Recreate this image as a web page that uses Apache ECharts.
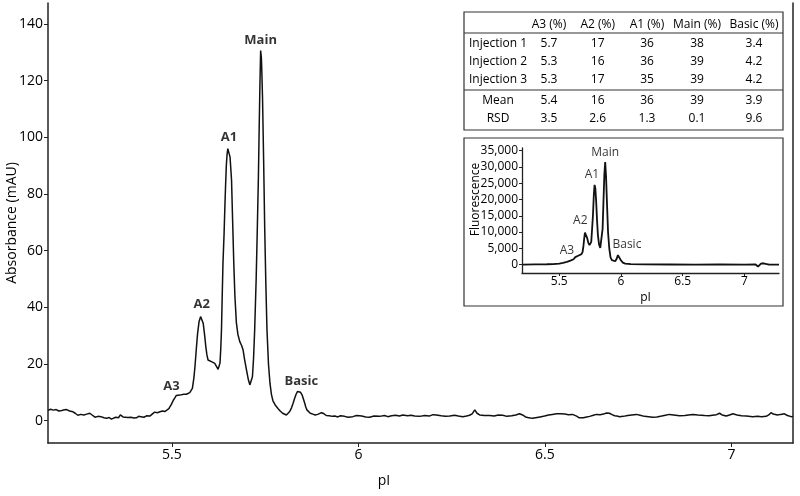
<!DOCTYPE html>
<html><head><meta charset="utf-8">
<script src="https://cdn.jsdelivr.net/npm/echarts@6/dist/echarts.min.js"></script>
<style>html,body{margin:0;padding:0;background:#fff}#c{width:800px;height:496px}</style>
</head><body><div id="c"></div>
<script>
const FONT = '"Open Sans", sans-serif';
const INK = '#000';

// ---- tick labels ----
const mainTicksX = [5.5, 6, 6.5, 7];
const mainTicksY = [0, 20, 40, 60, 80, 100, 120, 140];
const insetTicksX = [5.5, 6, 6.5, 7];
const insetTicksY = [0, 5000, 10000, 15000, 20000, 25000, 30000, 35000];

// ---- main absorbance trace [pI, mAU] ----
const mainTrace = [
[5.168,3.6],[5.175,4.0],[5.182,3.7],[5.190,3.9],[5.197,3.4],[5.205,3.6],[5.212,3.8],[5.218,3.9],[5.226,3.4],[5.235,3.1],
[5.241,2.6],[5.248,1.9],[5.256,2.2],[5.264,2.0],[5.272,2.3],[5.280,2.6],[5.287,1.9],[5.294,1.2],[5.302,1.5],[5.310,1.4],
[5.318,1.0],[5.325,0.8],[5.332,1.1],[5.338,0.5],[5.344,0.9],[5.350,1.2],[5.357,1.0],[5.362,2.0],[5.365,2.4],[5.369,1.3],
[5.374,0.8],[5.382,1.1],[5.390,1.2],[5.398,0.9],[5.405,1.0],[5.411,1.5],[5.417,1.4],[5.425,1.2],[5.432,1.7],[5.441,1.6],
[5.448,2.4],[5.454,3.0],[5.461,2.8],[5.468,3.1],[5.475,3.4],[5.481,3.2],[5.486,2.9],[5.492,4.2],[5.499,5.8],[5.504,7.2],
[5.508,8.0],[5.512,8.9],[5.516,8.6],[5.521,9.0],[5.526,8.9],[5.532,9.3],[5.539,9.3],[5.544,9.6],[5.548,9.9],[5.552,10.5],
[5.555,11.4],[5.559,15],[5.562,19.1],[5.566,26],[5.569,30.8],[5.573,35.0],[5.577,36.7],[5.580,36.0],[5.584,34.4],[5.588,30],
[5.591,26.1],[5.594,23.2],[5.597,21.4],[5.601,21.0],[5.606,20.8],[5.610,20.4],[5.615,20.2],[5.619,19.5],[5.624,18.1],[5.627,18.6],
[5.629,20.3],[5.631,25],[5.633,32],[5.635,44],[5.637,55.5],[5.640,66],[5.642,75],[5.644,83],[5.646,90],[5.648,94],
[5.650,96],[5.653,96.7],[5.656,93],[5.658,89],[5.660,84.9],[5.663,70],[5.666,55.6],[5.669,44],[5.673,34.5],[5.677,30.5],
[5.682,27.9],[5.687,26.5],[5.691,24.9],[5.695,21.5],[5.700,17.9],[5.705,14.5],[5.709,12.6],[5.713,13.2],[5.716,15.5],[5.719,22],
[5.722,32],[5.726,50],[5.729,67.3],[5.732,86],[5.734,102.6],[5.736,118],[5.738,130.6],[5.740,128],[5.741,124],[5.743,114.3],
[5.746,92],[5.749,67.3],[5.752,48],[5.755,32],[5.759,20],[5.763,13.2],[5.767,9.2],[5.771,7.0],[5.778,5.3],[5.785,4.2],
[5.791,3.3],[5.797,2.6],[5.802,2.1],[5.807,2.0],[5.812,2.4],[5.816,3.2],[5.821,4.6],[5.825,6.1],[5.829,7.8],[5.833,9.3],
[5.837,10.3],[5.841,10.6],[5.845,10.0],[5.849,9.1],[5.852,7.9],[5.856,6.2],[5.859,4.8],[5.862,3.8],[5.865,3.2],[5.871,2.6],
[5.878,2.3],[5.884,2.0],[5.891,2.2],[5.896,2.5],[5.901,2.8],[5.907,2.5],[5.914,1.8],[5.922,1.7],[5.930,1.5],[5.937,1.6],
[5.945,1.3],[5.952,1.7],[5.963,1.5],[5.972,1.2],[5.985,1.4],[5.995,1.8],[6.009,1.6],[6.020,1.3],[6.030,1.2],[6.042,1.6],
[6.057,1.5],[6.070,1.8],[6.079,1.4],[6.089,1.7],[6.100,1.9],[6.110,1.6],[6.119,2.0],[6.132,1.7],[6.141,1.9],[6.151,1.6],
[6.164,1.5],[6.178,1.8],[6.190,1.6],[6.200,2.1],[6.209,2.0],[6.222,1.7],[6.233,1.5],[6.245,1.6],[6.258,1.9],[6.268,1.6],
[6.280,1.4],[6.290,1.6],[6.298,1.9],[6.305,2.4],[6.312,3.8],[6.318,2.6],[6.325,2.0],[6.338,1.8],[6.352,1.8],[6.364,1.6],
[6.375,2.0],[6.387,1.9],[6.398,1.5],[6.411,1.7],[6.422,2.0],[6.432,2.4],[6.440,2.0],[6.448,1.3],[6.454,1.1],[6.461,0.9],
[6.467,0.8],[6.475,1.0],[6.487,1.3],[6.499,1.6],[6.510,2.0],[6.520,2.2],[6.531,2.4],[6.542,2.4],[6.553,2.3],[6.563,2.1],
[6.574,2.2],[6.585,1.6],[6.592,1.0],[6.597,0.8],[6.603,1.0],[6.612,1.3],[6.620,1.5],[6.630,1.9],[6.638,2.2],[6.648,2.1],
[6.657,2.3],[6.665,2.7],[6.673,2.6],[6.680,2.1],[6.687,1.7],[6.693,1.6],[6.700,1.4],[6.710,1.5],[6.722,1.8],[6.733,2.0],
[6.745,2.2],[6.755,1.9],[6.767,1.5],[6.778,1.4],[6.789,1.2],[6.800,1.3],[6.813,1.6],[6.823,1.9],[6.834,2.2],[6.845,2.0],
[6.861,1.7],[6.875,1.8],[6.885,2.0],[6.896,2.2],[6.910,2.0],[6.928,1.8],[6.940,1.7],[6.949,1.9],[6.960,2.1],[6.968,2.6],
[6.975,2.0],[6.986,1.6],[6.995,2.0],[7.004,2.4],[7.015,2.0],[7.027,1.7],[7.040,1.6],[7.057,1.4],[7.070,1.5],[7.081,1.4],
[7.093,1.5],[7.100,2.0],[7.106,2.8],[7.112,2.3],[7.123,2.0],[7.132,2.2],[7.142,2.4],[7.150,1.8],[7.160,1.4],[7.165,1.5]
];

// ---- inset fluorescence trace [pI, fluorescence] ----
const insetTrace = [
[5.205,0],[5.30,50],[5.40,100],[5.45,150],[5.50,300],[5.53,500],[5.562,800],[5.59,1200],[5.616,1640],[5.630,2300],
[5.643,2660],[5.657,2800],[5.670,2870],[5.680,3200],[5.689,3900],[5.696,5800],[5.702,8030],[5.708,9800],[5.713,10300],[5.718,9700],
[5.727,8030],[5.736,6600],[5.745,5960],[5.752,6300],[5.759,6980],[5.766,11000],[5.773,15220],[5.780,21500],[5.786,24490],[5.792,23500],
[5.799,19330],[5.806,13500],[5.813,9050],[5.822,6200],[5.832,5130],[5.840,5300],[5.845,5500],[5.851,11000],[5.858,19330],[5.865,27500],
[5.872,31500],[5.879,27000],[5.886,19330],[5.895,10000],[5.905,4940],[5.915,2200],[5.926,1330],[5.940,1000],[5.953,1020],[5.965,1800],
[5.975,2900],[5.980,3090],[5.987,2700],[5.999,1330],[6.015,600],[6.034,310],[6.08,150],[6.19,50],[6.40,20],[6.60,0],
[6.80,30],[7.00,0],[7.09,20],[7.100,0],[7.110,-600],[7.118,-1050],[7.126,-300],[7.134,310],[7.143,550],[7.153,400],
[7.165,50],[7.20,0],[7.28,0]
];

// ---- peak labels ----
const peakNames = ['A3', 'A2', 'A1', 'Main', 'Basic'];
const mainLabelPI = [5.499, 5.580, 5.653, 5.738, 5.847];
const mainLabelAbs = [12.0, 41.2, 100.0, 134.1, 14.0];
const insetLabelPI = [5.562, 5.670, 5.765, 5.872, 6.048];
const insetLabelFl = [4420, 13370, 27800, 34280, 6180];

// ---- table ----
const tableCols = ['A3 (%)', 'A2 (%)', 'A1 (%)', 'Main (%)', 'Basic (%)'];
const tableRows = ['Injection 1', 'Injection 2', 'Injection 3', 'Mean', 'RSD'];
const tableValues = [
  ['5.7', '17', '36', '38', '3.4'],
  ['5.3', '16', '36', '39', '4.2'],
  ['5.3', '17', '35', '39', '4.2'],
  ['5.4', '16', '36', '39', '3.9'],
  ['3.5', '2.6', '1.3', '0.1', '9.6']
];

// layout of table (pixels)
const tblLeft = 464, tblRight = 783, tblTop = 12, tblBottom = 130;
const tblColX = [549, 597.7, 647, 697, 754];
const tblLabelX = 498;
const tblHeaderY = 25;
const tblRowY = [44, 62, 80, 101, 118.5];
const tblLines = [33, 90];
const tblFont = '12px ' + FONT;

const graphics = [];
graphics.push({type: 'rect', shape: {x: tblLeft, y: tblTop, width: tblRight - tblLeft, height: tblBottom - tblTop},
  style: {fill: 'none', stroke: '#333', lineWidth: 1.2}});
tblLines.forEach(y => graphics.push({type: 'line', shape: {x1: tblLeft, y1: y, x2: tblRight, y2: y},
  style: {stroke: '#333', lineWidth: 1.2}}));
tableCols.forEach((c, i) => graphics.push({type: 'text', x: tblColX[i], y: tblHeaderY,
  style: {text: c, font: tblFont, fill: INK, textAlign: 'center', textVerticalAlign: 'middle'}}));
tableRows.forEach((r, j) => {
  graphics.push({type: 'text', x: tblLabelX, y: tblRowY[j],
    style: {text: r, font: tblFont, fill: INK, textAlign: 'center', textVerticalAlign: 'middle'}});
  tableValues[j].forEach((v, i) => graphics.push({type: 'text', x: tblColX[i], y: tblRowY[j],
    style: {text: v, font: tblFont, fill: INK, textAlign: 'center', textVerticalAlign: 'middle'}}));
});
// inset frame
graphics.push({type: 'rect', shape: {x: 464, y: 138, width: 319, height: 168},
  style: {fill: 'none', stroke: '#333', lineWidth: 1.2}});

const axisLineStyle = {color: '#222', width: 1.5};
const comma = v => String(v).replace(/\B(?=(\d{3})+(?!\d))/g, ',');

const option = {
  animation: false,
  backgroundColor: '#fff',
  textStyle: {fontFamily: FONT},
  grid: [
    {left: 48, right: 7, top: 3, bottom: 53, outerBoundsMode: 'none', containLabel: false},
    {left: 522, right: 21, top: 148, bottom: 223, outerBoundsMode: 'none', containLabel: false}
  ],
  xAxis: [
    {type: 'value', gridIndex: 0, min: 5.168, max: 7.165,
     axisLine: {show: true, onZero: false, lineStyle: axisLineStyle},
     axisTick: {show: true, customValues: mainTicksX, length: 4, lineStyle: {color: '#222'}},
     axisLabel: {customValues: mainTicksX, fontSize: 14, color: INK, margin: 5, fontFamily: FONT},
     splitLine: {show: false},
     name: 'pI', nameLocation: 'middle', nameGap: 31, nameMoveOverlap: false,
     nameTextStyle: {fontSize: 14, color: INK, fontFamily: FONT, padding: [0, 73, 0, 0]}},
    {type: 'value', gridIndex: 1, min: 5.198, max: 7.28,
     axisLine: {show: true, onZero: false, lineStyle: {color: '#222', width: 1.3}},
     axisTick: {show: true, customValues: insetTicksX, length: 3, lineStyle: {color: '#222'}},
     axisLabel: {customValues: insetTicksX, fontSize: 12, color: INK, margin: 3, fontFamily: FONT},
     splitLine: {show: false},
     name: 'pI', nameLocation: 'middle', nameGap: 19, nameMoveOverlap: false,
     nameTextStyle: {fontSize: 12, color: INK, fontFamily: FONT, padding: [0, 10, 0, 0]}}
  ],
  yAxis: [
    {type: 'value', gridIndex: 0, min: -7.9, max: 147.4,
     axisLine: {show: true, onZero: false, lineStyle: axisLineStyle},
     axisTick: {show: true, customValues: mainTicksY, length: 4, lineStyle: {color: '#222'}},
     axisLabel: {customValues: mainTicksY, fontSize: 14, color: INK, margin: 5, fontFamily: FONT},
     splitLine: {show: false},
     name: 'Absorbance (mAU)', nameLocation: 'middle', nameGap: 29, nameMoveOverlap: false,
     nameTextStyle: {fontSize: 14, color: INK, fontFamily: FONT}},
    {type: 'value', gridIndex: 0, position: 'right', min: -7.9, max: 147.4,
     axisLine: {show: true, onZero: false, lineStyle: axisLineStyle},
     axisTick: {show: false}, axisLabel: {show: false}, splitLine: {show: false}},
    {type: 'value', gridIndex: 1, min: -2594, max: 35830,
     axisLine: {show: true, onZero: false, lineStyle: {color: '#222', width: 1.3}},
     axisTick: {show: true, customValues: insetTicksY, length: 3, lineStyle: {color: '#222'}},
     axisLabel: {customValues: insetTicksY, fontSize: 12, color: INK, margin: 4, fontFamily: FONT, formatter: comma},
     splitLine: {show: false},
     name: 'Fluorescence', nameLocation: 'middle', nameGap: 40, nameMoveOverlap: false,
     nameTextStyle: {fontSize: 12, color: INK, fontFamily: FONT, padding: [0, 0, 0, 22]}}
  ],
  series: [
    {type: 'line', xAxisIndex: 0, yAxisIndex: 0, data: mainTrace, showSymbol: false, symbol: 'none',
     lineStyle: {color: '#111', width: 1.5}, z: 3},
    {type: 'scatter', xAxisIndex: 0, yAxisIndex: 0, symbolSize: 1, itemStyle: {color: 'rgba(0,0,0,0)'},
     data: peakNames.map((n, i) => ({name: n, value: [mainLabelPI[i], mainLabelAbs[i]]})),
     label: {show: true, position: 'inside', formatter: '{b}', fontSize: 13, fontWeight: 'bold', color: INK, fontFamily: FONT}},
    {type: 'line', xAxisIndex: 1, yAxisIndex: 2, data: insetTrace, showSymbol: false, symbol: 'none',
     lineStyle: {color: '#111', width: 1.8}, z: 3},
    {type: 'scatter', xAxisIndex: 1, yAxisIndex: 2, symbolSize: 1, itemStyle: {color: 'rgba(0,0,0,0)'},
     data: peakNames.map((n, i) => ({name: n, value: [insetLabelPI[i], insetLabelFl[i]]})),
     label: {show: true, position: 'inside', formatter: '{b}', fontSize: 12, color: INK, fontFamily: FONT}}
  ],
  graphic: graphics
};

const chart = echarts.init(document.getElementById('c'), null, {renderer: 'canvas'});
chart.setOption(option);
</script>
</body></html>
